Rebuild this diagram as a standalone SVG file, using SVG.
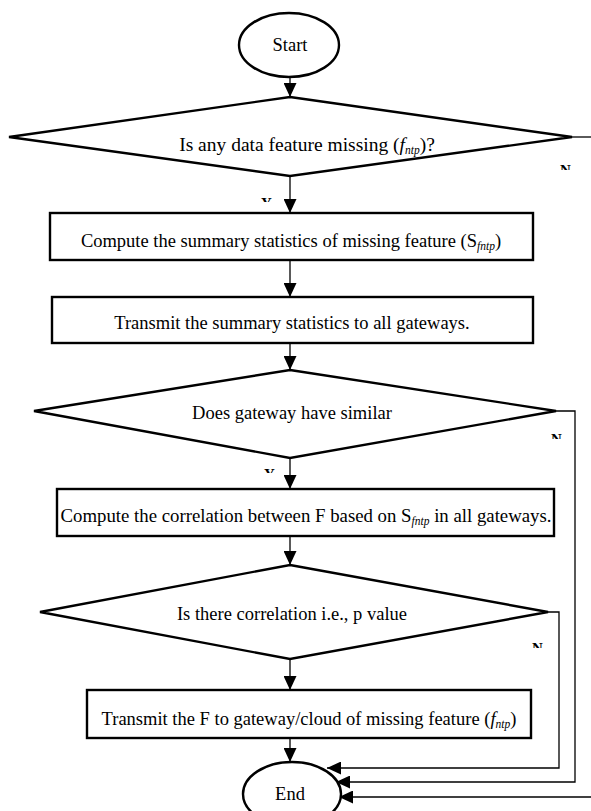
<svg xmlns="http://www.w3.org/2000/svg" width="591" height="811" viewBox="0 0 591 811">
<style>
.shape{fill:#fff;stroke:#000;stroke-width:2.4}
.conn{fill:none;stroke:#000;stroke-width:1.3}
.t{font-family:"Liberation Serif","Times New Roman",serif;font-size:18.5px;fill:#000}
.sub{font-style:italic;font-size:11.5px}
.lab{font-family:"Liberation Serif","Times New Roman",serif;font-size:15px;font-weight:bold;fill:#000}
</style>
<defs>
<marker id="ah" markerWidth="14" markerHeight="13" refX="14" refY="6.5" orient="auto" markerUnits="userSpaceOnUse"><path d="M0,0 L14,6.5 L0,13 z" fill="#000"/></marker>
<clipPath id="cN1"><rect x="555" y="150" width="30" height="20"/></clipPath>
<clipPath id="cY1"><rect x="250" y="185" width="30" height="17"/></clipPath>
<clipPath id="cN2"><rect x="545" y="420" width="30" height="19"/></clipPath>
<clipPath id="cY2"><rect x="255" y="455" width="30" height="18"/></clipPath>
<clipPath id="cN3"><rect x="525" y="630" width="30" height="18"/></clipPath>
</defs>
<rect width="591" height="811" fill="#fff"/>
<g id="connectors">
<line class="conn" x1="290" y1="77" x2="290" y2="97" marker-end="url(#ah)"/>
<line class="conn" x1="290" y1="176" x2="290" y2="213" marker-end="url(#ah)"/>
<line class="conn" x1="290" y1="260" x2="290" y2="297" marker-end="url(#ah)"/>
<line class="conn" x1="290" y1="343" x2="290" y2="370" marker-end="url(#ah)"/>
<line class="conn" x1="290" y1="458" x2="290" y2="489" marker-end="url(#ah)"/>
<line class="conn" x1="290" y1="536" x2="290" y2="565" marker-end="url(#ah)"/>
<line class="conn" x1="290" y1="659" x2="290" y2="690" marker-end="url(#ah)"/>
<line class="conn" x1="290" y1="738" x2="290" y2="762" marker-end="url(#ah)"/>
<polyline class="conn" points="572,137 591,137"/>
<polyline class="conn" points="556,411 575,411 575,782 336,782" marker-end="url(#ah)"/>
<polyline class="conn" points="548,612 559,612 559,768 327,768" marker-end="url(#ah)"/>
<polyline class="conn" points="591,797 339,797" marker-end="url(#ah)"/>
<text class="lab" x="560" y="175" clip-path="url(#cN1)">N</text>
<text class="lab" x="261" y="208" clip-path="url(#cY1)">Y</text>
<text class="lab" x="551" y="444" clip-path="url(#cN2)">N</text>
<text class="lab" x="264" y="479" clip-path="url(#cY2)">Y</text>
<text class="lab" x="532" y="653" clip-path="url(#cN3)">N</text>
</g>
<g id="start">
<ellipse class="shape" cx="289" cy="45" rx="50" ry="32"/>
<text class="t" x="290" y="51" text-anchor="middle">Start</text>
</g>
<g id="decision1">
<polygon class="shape" points="290,97 572,137 290,176 9,137"/>
<text class="t" x="307" y="151" text-anchor="middle" style="font-size:19.5px">Is any data feature missing (<tspan font-style="italic">f</tspan><tspan class="sub" dy="3">ntp</tspan><tspan dy="-3">)?</tspan></text>
</g>
<g id="step1">
<rect class="shape" x="50" y="213" width="483" height="47"/>
<text class="t" x="291" y="247" text-anchor="middle">Compute the summary statistics of missing feature (S<tspan class="sub" dy="3">fntp</tspan><tspan dy="-3">)</tspan></text>
</g>
<g id="step2">
<rect class="shape" x="52" y="297" width="481" height="46"/>
<text class="t" x="292" y="329" text-anchor="middle">Transmit the summary statistics to all gateways.</text>
</g>
<g id="decision2">
<polygon class="shape" points="290,370 556,411 290,458 34,411"/>
<text class="t" x="292" y="419" text-anchor="middle">Does gateway have similar</text>
</g>
<g id="step3">
<rect class="shape" x="57" y="489" width="497" height="47"/>
<text class="t" x="306" y="522" text-anchor="middle" style="font-size:18.8px">Compute the correlation between F based on S<tspan class="sub" dy="3">fntp</tspan><tspan dy="-3"> in all gateways.</tspan></text>
</g>
<g id="decision3">
<polygon class="shape" points="290,565 548,612 290,659 40,612"/>
<text class="t" x="292" y="620" text-anchor="middle">Is there correlation i.e., p value</text>
</g>
<g id="step4">
<rect class="shape" x="87" y="690" width="444" height="48"/>
<text class="t" x="309" y="725" text-anchor="middle">Transmit the F to gateway/cloud of missing feature (<tspan font-style="italic">f</tspan><tspan class="sub" dy="3">ntp</tspan><tspan dy="-3">)</tspan></text>
</g>
<g id="end">
<ellipse class="shape" cx="292" cy="794" rx="49" ry="32"/>
<text class="t" x="290" y="800" text-anchor="middle">End</text>
</g>
</svg>
